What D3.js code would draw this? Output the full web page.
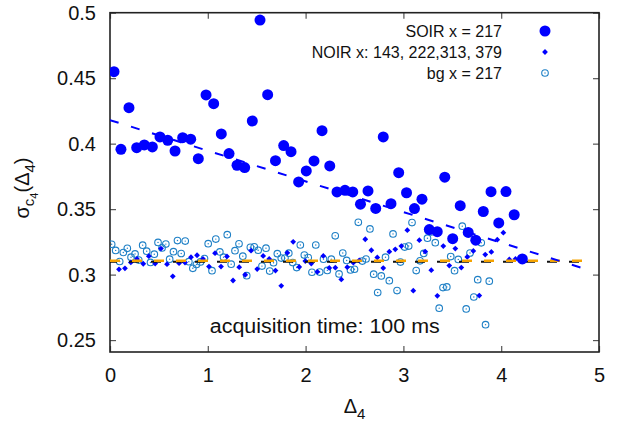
<!DOCTYPE html>
<html>
<head>
<meta charset="utf-8">
<script src="https://cdn.jsdelivr.net/npm/d3@7"></script>
<style>
  body { margin: 0; background: #fff; }
  text { font-family: "Liberation Sans", Arial, sans-serif; fill: #111; }
</style>
</head>
<body>
<div id="chart"></div>
<script>
// SOIR x = 217 : delta, sigma
const soirX = [0.041, 0.112, 0.194, 0.273, 0.351, 0.433, 0.511, 0.590, 0.665, 0.743, 0.825, 0.903, 0.982, 1.060,
  1.138, 1.217, 1.299, 1.377, 1.455, 1.534, 1.612, 1.692, 1.776, 1.851, 1.929, 2.007, 2.086, 2.168, 2.247, 2.321,
  2.403, 2.482, 2.561, 2.638, 2.717, 2.794, 2.873, 2.952, 3.032, 3.113, 3.190, 3.265, 3.346, 3.423, 3.504, 3.581,
  3.663, 3.740, 3.817, 3.896, 3.975, 4.049, 4.133, 4.216]
const soirY = [0.4550, 0.3957, 0.4275, 0.3969, 0.3990, 0.3975, 0.4051, 0.4026, 0.3944, 0.4046, 0.4034, 0.3885, 0.4372, 0.4305,
  0.4074, 0.3924, 0.3835, 0.3817, 0.4173, 0.4944, 0.4374, 0.3870, 0.3985, 0.3939, 0.3708, 0.3792, 0.3868, 0.4099, 0.3830, 0.3631,
  0.3644, 0.3631, 0.3538, 0.3639, 0.3505, 0.4051, 0.3542, 0.3778, 0.3625, 0.3504, 0.3576, 0.3344, 0.3328, 0.3744, 0.3274, 0.3526,
  0.3322, 0.3263, 0.3482, 0.3633, 0.3395, 0.3634, 0.3457, 0.3120]

// NOIR x: 143, 222, 313, 379
const noirX = [0.092, 0.153, 0.213, 0.276, 0.340, 0.397, 0.462, 0.521, 0.583, 0.642, 0.706, 0.767, 0.828, 0.890, 0.951,
  1.012, 1.074, 1.135, 1.196, 1.258, 1.321, 1.382, 1.442, 1.505, 1.566, 1.628, 1.692, 1.751, 1.813, 1.873, 1.935,
  1.997, 2.058, 2.120, 2.181, 2.242, 2.304, 2.365, 2.426, 2.488, 2.549, 2.610, 2.672, 2.733, 2.794, 2.856, 2.917,
  2.979, 3.040, 3.101, 3.163, 3.223, 3.285, 3.347, 3.408, 3.469, 3.531, 3.592, 3.653, 3.715, 3.776, 3.837, 3.899,
  3.960, 4.022, 4.083, 4.146]
const noirY = [0.3040, 0.3048, 0.3093, 0.3120, 0.3083, 0.3141, 0.3084, 0.3199, 0.3080, 0.2987, 0.3087, 0.3092, 0.3133, 0.3148, 0.3119,
  0.3061, 0.3164, 0.3061, 0.3139, 0.2955, 0.3057, 0.2999, 0.3183, 0.3042, 0.3143, 0.3119, 0.3031, 0.2914, 0.3166, 0.3250, 0.3059,
  0.3103, 0.3084, 0.3021, 0.3143, 0.3051, 0.3053, 0.2963, 0.3057, 0.3091, 0.3109, 0.3270, 0.3186, 0.3131, 0.3050, 0.3175, 0.3193,
  0.3218, 0.3339, 0.2877, 0.3263, 0.3176, 0.3034, 0.2838, 0.3218, 0.3069, 0.3199, 0.3054, 0.3135, 0.3181, 0.2840, 0.3153, 0.3173,
  0.3267, 0.3320, 0.3116, 0.3120]

// bg x = 217
const bgX = [0.017, 0.058, 0.099, 0.136, 0.177, 0.215, 0.256, 0.294, 0.334, 0.375, 0.414, 0.453, 0.491, 0.532, 0.571,
  0.610, 0.649, 0.690, 0.728, 0.769, 0.806, 0.847, 0.884, 0.925, 0.966, 1.004, 1.043, 1.082, 1.123, 1.161, 1.199,
  1.239, 1.278, 1.319, 1.358, 1.398, 1.435, 1.475, 1.515, 1.554, 1.595, 1.633, 1.672, 1.711, 1.751, 1.789, 1.828,
  1.868, 1.909, 1.946, 1.987, 2.027, 2.065, 2.104, 2.144, 2.183, 2.222, 2.263, 2.303, 2.342, 2.380, 2.420, 2.459,
  2.500, 2.539, 2.580, 2.618, 2.658, 2.696, 2.737, 2.774, 2.817, 2.856, 2.894, 2.935, 2.970, 3.013, 3.054, 3.088,
  3.131, 3.170, 3.208, 3.246, 3.285, 3.326, 3.366, 3.405, 3.444, 3.484, 3.523, 3.561, 3.602, 3.642, 3.681, 3.720,
  3.760, 3.796, 3.840, 3.878]
const bgY = [0.3232, 0.3185, 0.3100, 0.3169, 0.3201, 0.3133, 0.3158, 0.3111, 0.3225, 0.3179, 0.3093, 0.3156, 0.3246, 0.3204, 0.3233,
  0.3118, 0.3175, 0.3260, 0.3161, 0.3256, 0.3099, 0.3048, 0.3077, 0.3097, 0.3123, 0.3236, 0.3030, 0.3271, 0.3173, 0.3133, 0.3305,
  0.3080, 0.3183, 0.3235, 0.3141, 0.2992, 0.3209, 0.3212, 0.3186, 0.3065, 0.3202, 0.3027, 0.3091, 0.3160, 0.3126, 0.3126, 0.3164,
  0.3092, 0.3054, 0.3226, 0.3149, 0.3130, 0.3018, 0.3226, 0.3019, 0.3118, 0.3032, 0.3118, 0.3296, 0.3005, 0.3165, 0.3108, 0.3036,
  0.3041, 0.3399, 0.3103, 0.3119, 0.3349, 0.3003, 0.2863, 0.2990, 0.3133, 0.2954, 0.3311, 0.2878, 0.3096, 0.3210, 0.3218, 0.3397,
  0.3031, 0.3105, 0.3162, 0.3278, 0.3326, 0.3244, 0.2744, 0.2901, 0.2906, 0.3138, 0.3030, 0.3116, 0.3370, 0.2738, 0.3165, 0.2829,
  0.2961, 0.3243, 0.2618, 0.2950]

// linear fits: [intercept, slope]
const fitSoir = [0.418, -0.0234]
const fitBg = [0.3098, 0]
const fitNoir = [0.3106, 0]
const fitRange = [0, 4.9]

const xTicks = [0, 1, 2, 3, 4, 5]
const yTicks = [0.25, 0.3, 0.35, 0.4, 0.45, 0.5]
const legendLabels = ['SOIR x = 217', 'NOIR x: 143, 222,313, 379', 'bg x = 217']

const fullWidth = 623, fullHeight = 421
const margin = { top: 12.7, right: 24, bottom: 69, left: 110 }
const width = fullWidth - margin.left - margin.right
const height = fullHeight - margin.top - margin.bottom

const blue = '#0000ff'
const bgColor = '#1f80c6'

const svg = d3.select('#chart').append('svg')
    .attr('width', fullWidth)
    .attr('height', fullHeight)
    .append('g')
    .attr('transform', 'translate(' + margin.left + ',' + margin.top + ')')

const x = d3.scaleLinear().domain([0, 5]).range([0, width])
const y = d3.scaleLinear().domain([0.2409, 0.5]).range([height, 0])

svg.append('clipPath').attr('id', 'clip')
    .append('rect').attr('width', width).attr('height', height)

// axes, ticks pointing inward, mirrored on top/right
svg.append('g')
    .attr('class', 'x-axis')
    .attr('transform', 'translate(0,' + height + ')')
    .call(d3.axisBottom(x).tickValues(xTicks).tickSize(-6).tickPadding(16).tickFormat(d3.format('d')))
svg.append('g')
    .attr('class', 'x-axis-top')
    .call(d3.axisTop(x).tickValues(xTicks).tickSize(-6).tickFormat(''))
svg.append('g')
    .attr('class', 'y-axis')
    .call(d3.axisLeft(y).tickValues(yTicks).tickSize(-6).tickPadding(14).tickFormat(d => d3.format('')(+d.toFixed(2))))
svg.append('g')
    .attr('class', 'y-axis-right')
    .attr('transform', 'translate(' + width + ',0)')
    .call(d3.axisRight(y).tickValues(yTicks).tickSize(-6).tickFormat(''))

svg.selectAll('.domain').remove()
svg.selectAll('.tick line').attr('stroke', '#555').attr('stroke-width', 1.2)
svg.selectAll('.tick text')
    .style('font-size', '20px')
    .attr('fill', '#111')

svg.append('rect')
    .attr('width', width)
    .attr('height', height)
    .attr('fill', 'none')
    .attr('stroke', '#222')
    .attr('stroke-width', 1.6)

const plot = svg.append('g').attr('clip-path', 'url(#clip)')

const soir = soirX.map((d, i) => ({ x: d, y: soirY[i] }))
const noir = noirX.map((d, i) => ({ x: d, y: noirY[i] }))
const bg = bgX.map((d, i) => ({ x: d, y: bgY[i] }))

const diamond = 'M0,-2.9L2.9,0L0,2.9L-2.9,0Z'

// bg points
const bgG = plot.append('g').attr('class', 'bg-points')
bgG.selectAll('circle.ring')
    .data(bg)
    .enter()
    .append('circle')
    .attr('class', 'ring')
    .attr('cx', d => x(d.x))
    .attr('cy', d => y(d.y))
    .attr('r', 3.3)
    .attr('fill', 'none')
    .attr('stroke', bgColor)
    .attr('stroke-width', 1.1)
bgG.selectAll('circle.dot')
    .data(bg)
    .enter()
    .append('circle')
    .attr('class', 'dot')
    .attr('cx', d => x(d.x))
    .attr('cy', d => y(d.y))
    .attr('r', 0.7)
    .attr('fill', bgColor)

// NOIR points
plot.append('g')
    .selectAll('path')
    .data(noir)
    .enter()
    .append('path')
    .attr('d', diamond)
    .attr('transform', d => 'translate(' + x(d.x) + ',' + y(d.y) + ')')
    .attr('fill', blue)

// fit lines
function fitLine(fit) {
    return d3.line()
        .x(d => x(d))
        .y(d => y(fit[0] + fit[1] * d))(fitRange)
}

plot.append('path')
    .attr('d', fitLine(fitBg))
    .attr('fill', 'none')
    .attr('stroke', '#111')
    .attr('stroke-width', 2)
    .attr('stroke-dasharray', '10,12')
    .attr('stroke-dashoffset', 3)

plot.append('path')
    .attr('d', fitLine(fitNoir))
    .attr('fill', 'none')
    .attr('stroke', '#f5a300')
    .attr('stroke-width', 2.4)
    .attr('stroke-dasharray', '10,12')

// SOIR points
plot.append('g')
    .selectAll('circle')
    .data(soir)
    .enter()
    .append('circle')
    .attr('cx', d => x(d.x))
    .attr('cy', d => y(d.y))
    .attr('r', 5.5)
    .attr('fill', blue)

plot.append('path')
    .attr('d', fitLine(fitSoir))
    .attr('fill', 'none')
    .attr('stroke', blue)
    .attr('stroke-width', 2)
    .attr('stroke-dasharray', '9,13')

// legend
const legend = svg.append('g').attr('transform', 'translate(' + (502 - margin.left) + ',' + (31 - margin.top) + ')')
legendLabels.forEach((t, i) => {
    legend.append('text')
        .attr('x', 0)
        .attr('y', i * 21)
        .attr('dy', '0.35em')
        .attr('text-anchor', 'end')
        .style('font-size', '16px')
        .text(t)
})
legend.append('circle').attr('cx', 43).attr('cy', 0).attr('r', 5.5).attr('fill', blue)
legend.append('path').attr('d', diamond).attr('transform', 'translate(43,21)').attr('fill', blue)
legend.append('circle').attr('cx', 43).attr('cy', 42).attr('r', 3.3).attr('fill', 'none')
    .attr('stroke', bgColor).attr('stroke-width', 1.1)
legend.append('circle').attr('cx', 43).attr('cy', 42).attr('r', 0.7).attr('fill', bgColor)

// annotation
svg.append('text')
    .attr('x', x(1.02))
    .attr('y', 333 - margin.top)
    .style('font-size', '20px')
    .attr('textLength', 230)
    .attr('lengthAdjust', 'spacingAndGlyphs')
    .text('acquisition time: 100 ms')

// x label
const xl = svg.append('text')
    .attr('x', width / 2)
    .attr('y', 413 - margin.top)
    .attr('text-anchor', 'middle')
    .style('font-size', '20px')
xl.append('tspan').text('Δ')
xl.append('tspan').attr('dy', 6).style('font-size', '15px').text('4')

// y label
const yl = svg.append('text')
    .attr('transform', 'translate(' + (29 - margin.left) + ',' + (188 - margin.top) + ') rotate(-90)')
    .attr('text-anchor', 'middle')
    .style('font-size', '20px')
yl.append('tspan').text('σ')
yl.append('tspan').attr('dy', 5).style('font-size', '15px').text('c')
yl.append('tspan').attr('dy', 4).style('font-size', '11px').text('4')
yl.append('tspan').attr('dy', -9).text('(Δ')
yl.append('tspan').attr('dy', 6).style('font-size', '15px').text('4')
yl.append('tspan').attr('dy', -6).text(')')
</script>
</body>
</html>
